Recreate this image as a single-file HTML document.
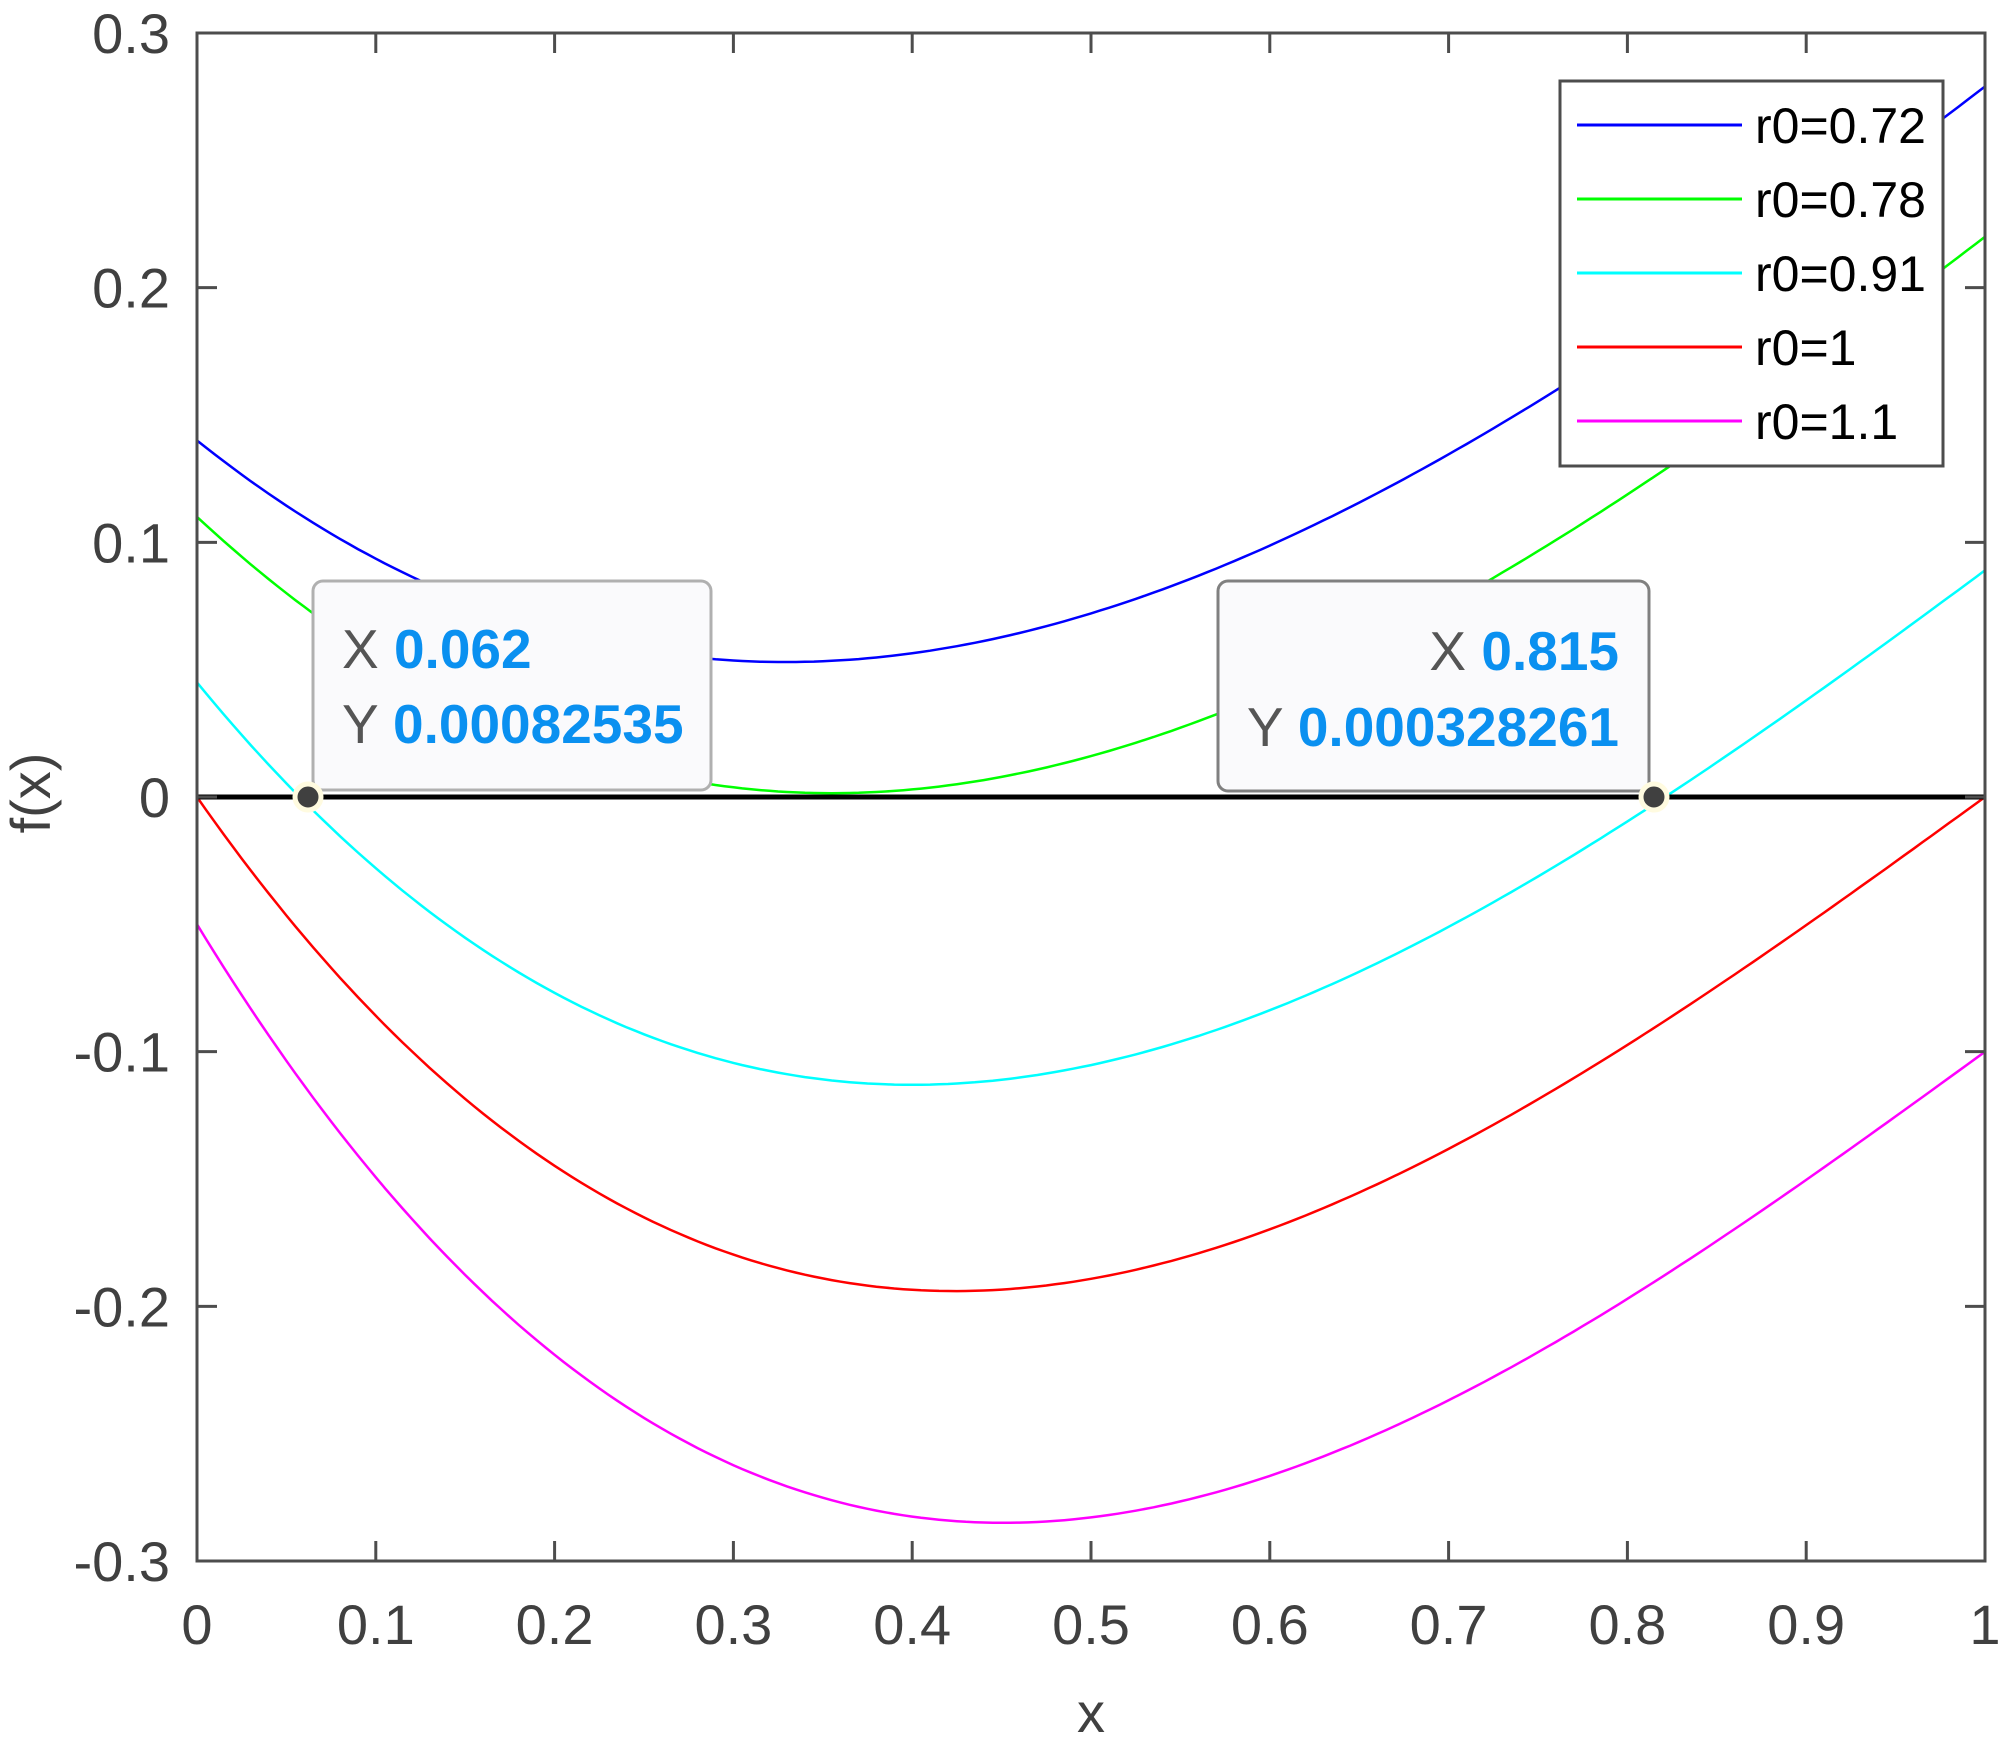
<!DOCTYPE html>
<html><head><meta charset="utf-8"><style>
html,body{margin:0;padding:0;background:#fff;}
svg{display:block;}
text{font-family:"Liberation Sans",Arial,sans-serif;}
</style></head><body>
<svg id="s" width="2000" height="1742" viewBox="0 0 2000 1742" xmlns="http://www.w3.org/2000/svg">
<rect width="2000" height="1742" fill="#fff"/>
<g id="curves" fill="none" stroke-width="2.5"></g>
<line x1="197" y1="797" x2="1985" y2="797" stroke="#000" stroke-width="5"/>
<g id="axes" stroke="#4d4d4d" stroke-width="3" fill="none"></g>
<g id="labels" fill="#404040" font-size="56"></g>
<text x="1091" y="1732" font-size="56" fill="#404040" text-anchor="middle">x</text>
<text transform="translate(50,793) rotate(-90)" font-size="56" fill="#404040" text-anchor="middle">f(x)</text>
<!-- legend -->
<rect x="1560" y="81" width="383" height="385" fill="#fff" stroke="#4d4d4d" stroke-width="3"/>
<g stroke-width="3">
<line x1="1577" y1="125" x2="1742" y2="125" stroke="#0000ff"/>
<line x1="1577" y1="199" x2="1742" y2="199" stroke="#00ff00"/>
<line x1="1577" y1="273" x2="1742" y2="273" stroke="#00ffff"/>
<line x1="1577" y1="347" x2="1742" y2="347" stroke="#ff0000"/>
<line x1="1577" y1="421" x2="1742" y2="421" stroke="#ff00ff"/>
</g>
<g font-size="50" fill="#000">
<text x="1755" y="143">r0=0.72</text>
<text x="1755" y="217">r0=0.78</text>
<text x="1755" y="291">r0=0.91</text>
<text x="1755" y="365">r0=1</text>
<text x="1755" y="439">r0=1.1</text>
</g>
<!-- datatips -->
<rect x="313" y="581" width="398" height="209" rx="10" fill="#fafafc" stroke="#b0b0b0" stroke-width="3"/>
<text x="342" y="668" font-size="55"><tspan fill="#555">X </tspan><tspan fill="#0a90f0" font-weight="bold">0.062</tspan></text>
<text x="342" y="743" font-size="55"><tspan fill="#555">Y </tspan><tspan fill="#0a90f0" font-weight="bold">0.00082535</tspan></text>
<rect x="1218" y="581" width="431" height="210" rx="10" fill="#fafafc" stroke="#808080" stroke-width="3"/>
<text x="1619" y="670" font-size="55" text-anchor="end"><tspan fill="#555">X </tspan><tspan fill="#0a90f0" font-weight="bold">0.815</tspan></text>
<text x="1619" y="746" font-size="55" text-anchor="end"><tspan fill="#555">Y </tspan><tspan fill="#0a90f0" font-weight="bold">0.000328261</tspan></text>
<circle cx="308" cy="797" r="13" fill="#404040" stroke="#fffbe0" stroke-width="5"/>
<circle cx="1654" cy="797" r="13" fill="#404040" stroke="#fffbe0" stroke-width="5"/>
</svg>
<script>
(function(){
var NS="http://www.w3.org/2000/svg";
var L=197,R=1985,T=33,B=1561;
function X(x){return L+x*(R-L);}
function Y(y){return 797-y*2546.7;}
function el(p,n,a){var e=document.createElementNS(NS,n);for(var k in a)e.setAttribute(k,a[k]);p.appendChild(e);return e;}
function solve(A,b){var n=b.length;for(var i=0;i<n;i++){var p=i;for(var j=i+1;j<n;j++)if(Math.abs(A[j][i])>Math.abs(A[p][i]))p=j;var t=A[i];A[i]=A[p];A[p]=t;t=b[i];b[i]=b[p];b[p]=t;for(var j=i+1;j<n;j++){var f=A[j][i]/A[i][i];for(var k=i;k<n;k++)A[j][k]-=f*A[i][k];b[j]-=f*b[i];}}var x=new Array(n);for(var i=n-1;i>=0;i--){var s=b[i];for(var k=i+1;k<n;k++)s-=A[i][k]*x[k];x[i]=s/A[i][i];}return x;}
var series=[
 ["#0000ff",0.14,0.279,0.329,0.053],
 ["#00ff00",0.11,0.22,0.355,0.0015],
 ["#00ffff",0.045,0.089,0.40,-0.113],
 ["#ff0000",0,0,0.424,-0.194],
 ["#ff00ff",-0.05,-0.1,0.451,-0.285]];
var g=document.getElementById("curves");
series.forEach(function(s){
 var a=s[1],b=s[2],m=s[3],v=s[4];
 var c=solve([[1,0,0,0],[1,1,1,1],[1,m,m*m,m*m*m],[0,1,2*m,3*m*m]],[a,b,v,0]);
 var d="";
 for(var i=0;i<=200;i++){var x=i/200;var y=c[0]+c[1]*x+c[2]*x*x+c[3]*x*x*x;d+=(i?"L":"M")+X(x).toFixed(1)+" "+Y(y).toFixed(1);}
 el(g,"path",{d:d,stroke:s[0]});
});
var ax=document.getElementById("axes");
el(ax,"rect",{x:L,y:T,width:R-L,height:B-T});
var lab=document.getElementById("labels");
for(var i=0;i<=10;i++){var x=X(i/10);
 if(i>0&&i<10){el(ax,"line",{x1:x,y1:B,x2:x,y2:B-20});el(ax,"line",{x1:x,y1:T,x2:x,y2:T+20});}
 var t=el(lab,"text",{x:x,y:1644,"text-anchor":"middle"});t.textContent=(i==0?"0":i==10?"1":"0."+i);}
var yl=["-0.3","-0.2","-0.1","0","0.1","0.2","0.3"];
for(var i=0;i<7;i++){var v=-0.3+0.1*i;var y=Y(v);
 if(i>0&&i<6){el(ax,"line",{x1:L,y1:y,x2:L+20,y2:y});el(ax,"line",{x1:R,y1:y,x2:R-20,y2:y});}
 var t=el(lab,"text",{x:170,y:y+20,"text-anchor":"end"});t.textContent=yl[i];}
})();
</script>
</body></html>
